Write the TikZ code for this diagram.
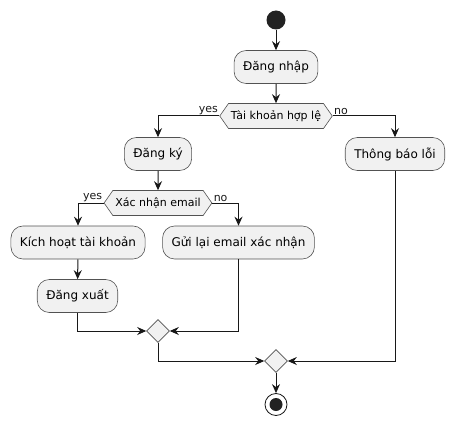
\documentclass[tikz,border=0pt]{standalone}
\usepackage{fontspec}
\setmainfont{DejaVu Sans}
\usetikzlibrary{positioning, arrows.meta, shapes.geometric, shapes.symbols}
\definecolor{boxfill}{HTML}{F1F1F1}
\definecolor{edgeline}{HTML}{181818}
\definecolor{dotfill}{HTML}{222222}
\tikzset{
    >={Stealth[length=9pt,width=8pt,inset=3pt]}, % arrow heads like the original
    x=1pt, y=-1pt, % one unit per pixel, y going down
    every edge/.style={draw, ->, edgeline, line width=1pt}, % directed connectors
    action/.style={draw=edgeline!75, fill=boxfill, rounded corners=12pt, line width=0.6pt,
        minimum height=33pt, inner xsep=9pt, font=\fontsize{12}{14}\selectfont}, % activity boxes
    choice/.style={signal, signal to=west and east, signal pointer angle=110, draw=edgeline!75,
        fill=boxfill, line width=0.6pt, minimum height=25pt, inner xsep=2.5pt,
        font=\fontsize{11}{13}\selectfont}, % decision hexagons
    merge/.style={diamond, draw=edgeline!75, fill=boxfill, line width=0.6pt,
        minimum size=23pt, inner sep=0pt}, % merge diamonds
    startdot/.style={circle, fill=dotfill, minimum size=19pt, inner sep=0pt},
    enddot/.style={circle, draw=edgeline, fill=white, line width=0.8pt, minimum size=22pt, inner sep=0pt,
        path picture={\fill[dotfill] (path picture bounding box.center) circle (6.5pt);}},
    lbl/.style={font=\fontsize{11}{13}\selectfont, inner sep=1pt}, % branch labels
    tohv/.style={to path={-| (\tikztotarget) \tikztonodes}},
    tovh/.style={to path={|- (\tikztotarget) \tikztonodes}},
}
\begin{document}
\begin{tikzpicture}
    \useasboundingbox (0,0) rectangle (455,425);
    \node[startdot] (q0) at (276,20) {};
    \node[action] (a1) at (276,67) {Đăng nhập};
    \node[choice] (d1) at (276,116) {Tài khoản hợp lệ};
    \node[action] (a2) at (158,154) {Đăng ký};
    \node[action] (a6) at (395,154) {Thông báo lỗi};
    \node[choice] (d2) at (158,203) {Xác nhận email};
    \node[action] (a3) at (78,242.5) {Kích hoạt tài khoản};
    \node[action] (a4) at (238.5,242.5) {Gửi lại email xác nhận};
    \node[action] (a5) at (77.5,296) {Đăng xuất};
    \node[merge] (m1) at (158,331) {};
    \node[merge] (m2) at (276,361) {};
    \node[enddot] (q1) at (276,404.5) {};
    \draw
    (q0) edge (a1)
    (a1) edge (d1)
    (d1.west) edge[tohv] node[lbl, pos=0, above left] {yes} (a2)
    (d1.east) edge[tohv] node[lbl, pos=0, above right] {no} (a6)
    (a2) edge (d2)
    (d2.west) edge[tohv] node[lbl, pos=0, above left] {yes} (a3)
    (d2.east) edge[tohv] node[lbl, pos=0, above right] {no} (a4)
    (a3) edge (a5)
    (a5) edge[tovh] (m1)
    (a4) edge[tovh] (m1)
    (m1) edge[tovh] (m2)
    (a6) edge[tovh] (m2)
    (m2) edge (q1);
\end{tikzpicture}
\end{document}
